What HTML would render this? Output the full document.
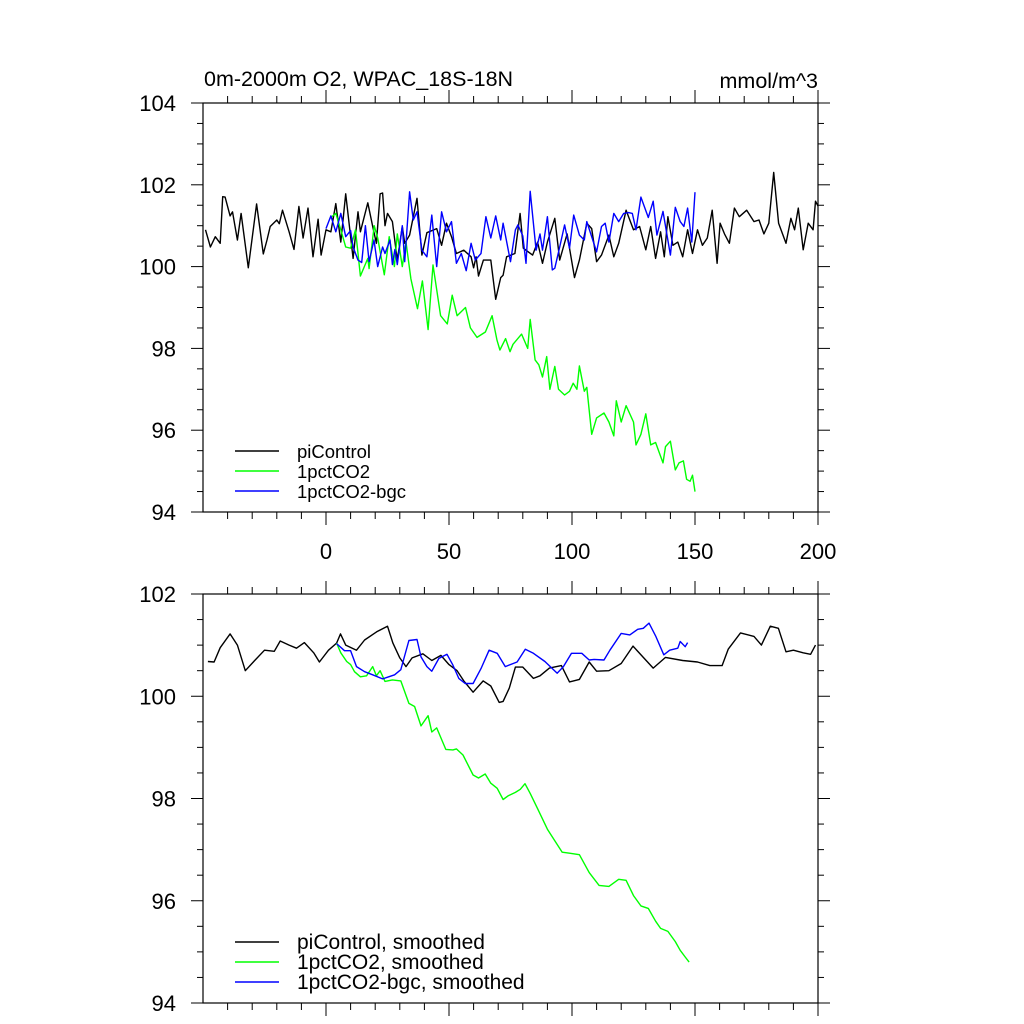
<!DOCTYPE html>
<html><head><meta charset="utf-8"><style>
html,body{margin:0;padding:0;background:#fff;}
svg{display:block;font-family:"Liberation Sans",sans-serif;}
</style></head><body>
<svg id="chart" width="1024" height="1024" viewBox="0 0 1024 1024">
<text x="204" y="86" font-size="21.5">0m-2000m O2, WPAC_18S-18N</text>
<text x="818" y="88" font-size="21.5" text-anchor="end">mmol/m^3</text>
<g id="p1"></g>
<g id="p2"></g>
</svg>
<script>
const xTicks=[0,50,100,150,200];
const yTicksTop=[94,96,98,100,102,104];
const yTicksBot=[94,96,98,100,102];
const piX=[-49,-47,-45,-43,-42,-41,-39,-38,-36,-34.5,-31.6,-28.2,-25.5,-24,-22.7,-20,-19,-17.7,-15,-13,-11,-9.3,-7.3,-5.3,-3.2,-2,0,2,4,6,8,11,13,14,17,19,20.5,22,23,24,25,27,29,31,32,34,37,39,41,45,47,49,51,53,56,59,60,61,62,64,67,69,71,72,73.4,76.8,78.9,80.2,84,86,88,90,93,95,98,101,103,106,108,110,112,115,117,119,122,125,127.5,130,132,134,136,137.5,139,141,143,145,147,149,151,153,155,157,159,160.2,162,164,166,168,171,174,176,178,180,182,184,187,189,190.5,192,194,196,198,199,200];
const piV=[100.9,100.48,100.73,100.57,101.71,101.7,101.24,101.34,100.65,101.3,99.97,101.53,100.31,100.65,100.98,101.14,101.05,101.38,100.85,100.42,101.47,100.7,101.43,100.24,101.16,100.28,100.9,100.85,101.54,100.6,101.78,100.2,101.34,100.85,101.56,100.98,100.57,101.78,101.8,101.0,101.3,101.1,100.16,100.98,100.57,100.77,101.67,100.28,100.83,100.93,100.52,101.06,100.73,100.32,100.4,100.24,99.97,100.24,99.77,100.16,100.16,99.2,99.73,99.79,100.24,100.32,101.3,100.45,100.28,100.6,100.08,100.6,101.18,100.16,100.8,99.73,100.16,101.06,100.93,100.12,100.28,100.77,100.24,100.57,101.38,100.9,100.98,100.41,100.98,100.2,100.85,100.24,101.22,100.52,100.6,100.24,100.9,100.32,100.9,100.52,100.7,101.38,100.08,101.06,100.8,100.57,101.43,101.22,101.38,101.1,101.14,100.8,101.06,102.3,101.06,100.57,101.18,100.9,101.43,100.41,101.06,100.9,101.6,101.48];
const grX=[2,4,6,8,10,12,14,17,17.5,19.6,21,23.7,25.7,27.8,29,31,32.5,34.5,37.2,39.2,41.5,43.5,46.6,49.3,51.3,53.3,56.7,58.7,61.4,64.8,67.5,69.5,70.7,73,74.8,76,79.5,82,83,85,86.5,88,89.7,91,93,94.5,97,99,100.5,102,103,105,106,108,110,113,115,117,118,120,122,125,126,128,130,132,134,135.5,137,138,140,142,143.5,145.3,146.6,148,149,150];
const grV=[101.2,101.3,100.9,100.48,100.45,100.9,99.77,100.2,99.95,101.0,100.7,99.8,100.73,100.0,100.8,100.0,100.6,99.7,98.97,99.65,98.46,100.04,98.8,98.6,99.3,98.8,99.0,98.5,98.27,98.4,98.8,98.2,97.96,98.24,97.92,98.1,98.35,98.0,98.71,97.72,97.6,97.3,97.8,97.0,97.56,97.0,96.86,96.95,97.15,97.0,97.57,96.95,97.05,95.9,96.3,96.42,96.2,95.86,96.72,96.2,96.6,96.2,95.64,95.9,96.4,95.64,95.7,95.45,95.2,95.6,95.73,95.03,95.2,95.25,94.8,94.75,94.9,94.5];
const blX=[0,2,4,6,8,10,11,13,14.5,16,17.5,19.5,21,23,24,26,27,28,29,31,32,34,35.5,37,39,41,43,45,47,49,51,53,55,57,59,60.7,63,65,67,69,71,72,75,77,78,80,81.3,83,85.4,87,88,90,92,93,95,97,99,100.7,103,105,106,110,112,113.5,115,117,119,121,123,124.5,126,128,131,133,134.5,137,140,142,144,145.5,147,148.7,150];
const blV=[100.93,101.24,100.85,101.3,100.73,100.88,100.48,100.16,100.1,101.0,100.12,100.65,100.0,100.48,100.32,100.65,100.05,100.42,100.05,101.0,100.12,101.83,101.14,101.34,100.4,100.24,101.26,100.0,101.34,100.85,101.1,100.08,100.32,99.9,100.57,100.16,100.32,101.22,100.7,101.24,100.65,101.06,100.12,100.9,101.02,100.75,100.08,101.84,100.4,100.8,100.4,101.22,99.92,99.96,100.48,101.02,100.45,101.26,100.77,100.65,101.1,100.36,100.98,101.06,100.6,101.3,101.1,101.3,101.32,101.3,100.9,101.7,101.2,101.6,100.77,101.35,100.28,101.45,101.1,100.98,101.43,100.6,101.82];
const spiX=[-48,-45.5,-43,-39,-36,-32.8,-29,-25,-21,-18.6,-15,-12,-8.8,-5,-2.7,1,4.3,5.9,8,12.4,15.7,20.6,25,27.2,30,32.5,35,39.4,43,46.7,50,53.3,56,59.8,63.9,67,70.4,72,74.5,77,80,84.3,87,90.8,95.7,99,103,107,110,115,120,124.8,129,133,138,145,151,156,161,163.5,168.5,174,177,180.6,183.9,187,190,194,197,199];
const spiV=[100.68,100.67,100.95,101.22,101.0,100.5,100.7,100.9,100.88,101.08,101.0,100.94,101.05,100.85,100.67,100.9,101.04,101.22,101.0,100.9,101.1,101.26,101.37,101.04,100.75,100.58,100.75,100.83,100.7,100.8,100.62,100.5,100.3,100.08,100.3,100.2,99.88,99.9,100.16,100.57,100.57,100.35,100.4,100.55,100.6,100.28,100.33,100.67,100.49,100.5,100.64,100.98,100.76,100.55,100.76,100.7,100.67,100.6,100.6,100.92,101.24,101.17,101.0,101.37,101.33,100.87,100.9,100.85,100.82,101.0];
const sgrX=[4.3,6,8.4,10,11.6,14,16.5,19,20.5,22,24,27,30.4,33.7,36,38.6,41.5,43,45,48.7,51.6,53,55.7,59.8,62,64.7,67,69.6,72,74,77,79,80.9,83,86,90,94,96,99,103,107,111,115,119,122,125,128,131,134,136,139,142,144,146,147.6];
const sgrV=[101.04,100.85,100.68,100.62,100.48,100.38,100.4,100.58,100.4,100.5,100.29,100.32,100.3,99.86,99.8,99.42,99.62,99.3,99.38,98.96,98.95,98.97,98.85,98.46,98.4,98.48,98.3,98.2,97.98,98.05,98.12,98.18,98.29,98.1,97.8,97.4,97.1,96.95,96.93,96.9,96.55,96.3,96.28,96.42,96.4,96.1,95.9,95.85,95.6,95.46,95.4,95.2,95.03,94.9,94.8];
const sblX=[4.3,7.5,10,12.4,15.7,19,23,25.5,27.9,30.4,33.7,37,38.6,41,43,45.9,49.2,51.6,54,56.6,59.8,63,66.3,69.6,72.9,77.7,81,84.3,89,94,96.5,99.8,104,107,109,113,115.4,120,123.5,126.7,129,131.3,134,137.3,139.7,143,144,146,147];
const sblV=[101.03,100.89,100.89,100.58,100.48,100.42,100.34,100.38,100.42,100.52,101.09,101.11,100.77,100.58,100.49,100.74,100.82,100.61,100.35,100.25,100.25,100.54,100.9,100.84,100.58,100.67,100.92,100.84,100.68,100.45,100.58,100.84,100.84,100.71,100.72,100.71,100.9,101.23,101.2,101.31,101.33,101.43,101.18,100.81,100.9,100.94,101.07,100.97,101.05];

const NS='http://www.w3.org/2000/svg';
const L=203,R=818,X0=-50,X1=200;
function sx(v){return L+(v-X0)/(X1-X0)*(R-L);}
function mk(tag,attrs,parent){const e=document.createElementNS(NS,tag);for(const k in attrs)e.setAttribute(k,attrs[k]);parent.appendChild(e);return e;}
function panel(g,top,bot,ymin,ymax,yt,showX,series,legend,ly,lfs){
  const sy=v=>bot-(v-ymin)/(ymax-ymin)*(bot-top);
  const fr=mk('rect',{x:L,y:top,width:R-L,height:bot-top,fill:'none',stroke:'#000','stroke-width':1.2},g);
  
  
  for(let v=-40;v<=200;v+=10){
    const maj=(v%50===0);const x=sx(v);const len=maj?13:7;
    const t1=mk('line',{x1:x,x2:x,y1:top,y2:top-len,stroke:'#000','stroke-width':1},g);
    
    
    const t2=mk('line',{x1:x,x2:x,y1:bot,y2:bot+len,stroke:'#000','stroke-width':1},g);
    
    
  }
  if(showX){xTicks.forEach(v=>{const t=mk('text',{x:sx(v),y:bot+47,'font-size':22,'text-anchor':'middle'},g);t.textContent=v;
    
    });}
  for(let v=ymin;v<=ymax+1e-6;v+=0.5){
    const maj=Math.abs(v-Math.round(v/2)*2)<1e-6;const y=sy(v);const len=maj?12:6;
    const a=mk('line',{x1:L,x2:L-len,y1:y,y2:y,stroke:'#000','stroke-width':1},g);
    
    
    const b=mk('line',{x1:R,x2:R+len,y1:y,y2:y,stroke:'#000','stroke-width':1},g);
    
    
  }
  yt.forEach(v=>{const t=mk('text',{x:176,y:sy(v)+8,'font-size':22,'text-anchor':'end'},g);t.textContent=v;
    
    });
  series.forEach(s=>{
    const d=s.xs.map((x,i)=>(i?'L':'M')+sx(x).toFixed(1)+','+sy(s.vs[i]).toFixed(1)).join('');
    const p=mk('path',{d:d,fill:'none',stroke:s.c,'stroke-width':1.4,'stroke-linejoin':'round'},g);
    
    
  });
  legend.forEach((t,i)=>{
    const y=ly+i*20;
    const ln=mk('line',{x1:235,x2:279,y1:y,y2:y,stroke:series[i].c,'stroke-width':1.5},g);
    
    
    const tx=mk('text',{x:297,y:y+7,'font-size':lfs},g);tx.textContent=t;
    
    
  });
}
panel(document.getElementById('p1'),103,512,94,104,yTicksTop,true,
 [{xs:piX,vs:piV,c:'#000',n:'picontrol-line'},{xs:grX,vs:grV,c:'#00ff00',n:'1pctco2-line'},{xs:blX,vs:blV,c:'#0000ff',n:'1pctco2-bgc-line'}],
 ['piControl','1pctCO2','1pctCO2-bgc'],451,18.5);
panel(document.getElementById('p2'),594,1003,94,102,yTicksBot,false,
 [{xs:spiX,vs:spiV,c:'#000',n:'picontrol-smoothed-line'},{xs:sgrX,vs:sgrV,c:'#00ff00',n:'1pctco2-smoothed-line'},{xs:sblX,vs:sblV,c:'#0000ff',n:'1pctco2-bgc-smoothed-line'}],
 ['piControl, smoothed','1pctCO2, smoothed','1pctCO2-bgc, smoothed'],942,21);
</script>
</body></html>
